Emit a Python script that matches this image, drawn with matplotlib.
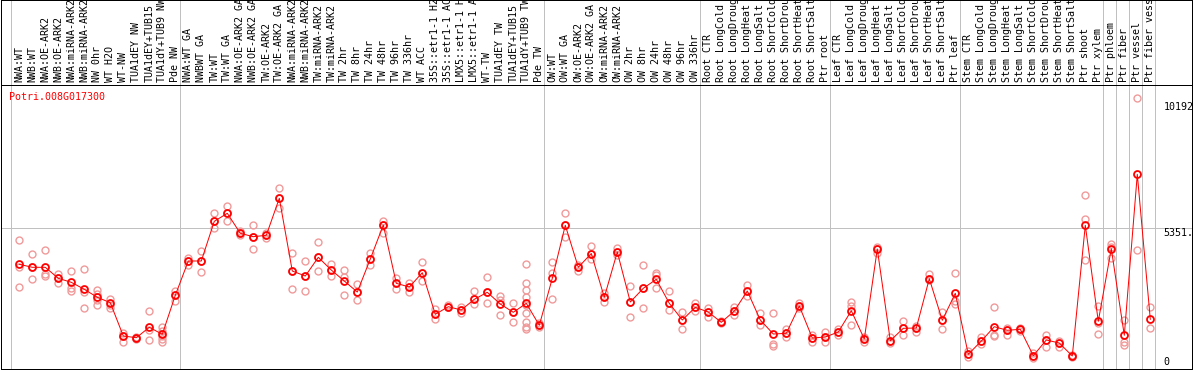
import matplotlib.pyplot as plt

gene = 'Potri.008G017300'

labels = [
    'NWA:WT', 'NWB:WT', 'NWA:OE-ARK2', 'NWB:OE-ARK2', 'NWA:miRNA-ARK2', 'NWB:miRNA-ARK2',
    'NW 0hr', 'WT H2O', 'WT-NW', 'TUA1dEY NW', 'TUA1dEY+TUB15', 'TUA1dY+TUB9 NW', 'Pde NW',
    'NWA:WT GA', 'NWBWT GA', 'TW:WT', 'TW:WT GA', 'NWA:OE-ARK2 GA', 'NWB:OE-ARK2 GA',
    'TW:OE-ARK2', 'TW:OE-ARK2 GA', 'NWA:miRNA-ARK2', 'NWB:miRNA-ARK2', 'TW:miRNA-ARK2',
    'TW:miRNA-ARK2', 'TW 2hr', 'TW 8hr', 'TW 24hr', 'TW 48hr', 'TW 96hr', 'TW 336hr',
    'WT ACC', '35S::etr1-1 H2', '35S::etr1-1 AC', 'LMX5::etr1-1 H', 'LMX5::etr1-1 A',
    'WT-TW', 'TUA1dEY TW', 'TUA1dEY+TUB15', 'TUA1dY+TUB9 TW', 'Pde TW',
    'OW:WT', 'OW:WT GA', 'OW:OE-ARK2', 'OW:OE-ARK2 GA', 'OW:miRNA-ARK2', 'OW:miRNA-ARK2',
    'OW 2hr', 'OW 8hr', 'OW 24hr', 'OW 48hr', 'OW 96hr', 'OW 336hr',
    'Root CTR', 'Root LongCold', 'Root LongDroug', 'Root LongHeat', 'Root LongSalt',
    'Root ShortCold', 'Root ShortDrou', 'Root ShortHeat', 'Root ShortSalt', 'Ptr root',
    'Leaf CTR', 'Leaf LongCold', 'Leaf LongDroug', 'Leaf LongHeat', 'Leaf LongSalt',
    'Leaf ShortCold', 'Leaf ShortDrou', 'Leaf ShortHeat', 'Leaf ShortSalt', 'Ptr leaf',
    'Stem CTR', 'Stem LongCold', 'Stem LongDroug', 'Stem LongHeat', 'Stem LongSalt',
    'Stem ShortCold', 'Stem ShortDrou', 'Stem ShortHeat', 'Stem ShortSalt', 'Ptr shoot',
    'Ptr xylem', 'Ptr phloem', 'Ptr fiber', 'Ptr vessel', 'Ptr fiber vess',
]

means = [
    4011, 3899, 3899, 3489, 3340, 3080, 2782, 2581, 1341, 1277, 1665, 1404, 2856,
    4134, 4134, 5612, 5910, 5165, 5039, 5091, 6469, 3761, 3575, 4271, 3798, 3389, 2979,
    4208, 5474, 3303, 3165, 3698, 2149, 2432, 2309, 2707, 2968, 2532, 2223, 2558, 1739,
    3489, 5463, 3899, 4413, 2782, 4469, 2607, 3117, 3452, 2558, 1936, 2409,
    2234, 1851, 2272, 3016, 1936, 1415, 1441, 2458, 1266, 1303,
    1490, 2283, 1229, 4581, 1166, 1627, 1639, 3474, 1925, 2931,
    659, 1154, 1687, 1553, 1590, 607, 1192, 1080, 596, 5463, 1888, 4592, 1367, 7362, 1963,
]

reps = [
    [4916, 3922, 3153], [4394, 3898, 3463], [4531, 3637, 3587], [3637, 3488, 3327],
    [3761, 3116, 3029], [3823, 2992, 2371], [3041, 2905, 2681, 2495], [2731, 2495, 2371],
    [1465, 1341, 1130], [1316, 1253, 1216], [2272, 1564, 1192], [1663, 1539, 1341, 1216, 1130],
    [3029, 2855, 2656],
    [4258, 4134, 3985], [4494, 4134, 3736], [5909, 5611, 5350], [6182, 5909, 5636],
    [5240, 5164, 5090], [5462, 5040, 4568], [5164, 5090, 4978], [6840, 6468, 6096],
    [4432, 3761, 3079], [4122, 3575, 3016], [4829, 4271, 3761], [4010, 3798, 3587],
    [3786, 3550, 2867], [3265, 2979, 2681], [4419, 4208, 3985], [5636, 5474, 5164],
    [3488, 3303, 3091], [3327, 3165, 2967], [4084, 3698, 3401], [2334, 2149, 1974],
    [2495, 2432, 2408], [2433, 2309, 2184], [3016, 2707, 2520], [3538, 2968, 2557],
    [2843, 2681, 2123], [2557, 2223, 1850],
    [4010, 3302, 3054, 2806, 2495, 2210, 1850, 1663, 1589], [1812, 1739, 1663],
    [4084, 3674, 2706], [5909, 5463, 5027], [3985, 3899, 3761], [4692, 4413, 4196],
    [2954, 2782, 2594], [4630, 4469, 4357], [3203, 2607, 2036], [3972, 3117, 2371],
    [3699, 3600, 3116], [3016, 2558, 2296], [2222, 1936, 1601], [2582, 2409, 2284],
    [2371, 2234, 2036], [1911, 1851, 1812], [2433, 2272, 2123], [3240, 3016, 2830],
    [2184, 1936, 1750], [2184, 1043, 968], [1614, 1441, 1291], [2582, 2458, 2371],
    [1378, 1266, 1130], [1477, 1303, 1130],
    [1589, 1490, 1378], [2607, 2458, 1738], [1316, 1229, 1105], [4667, 4581, 4419],
    [1316, 1166, 1067], [1899, 1627, 1365], [1725, 1639, 1502], [3637, 3474, 3426],
    [2247, 1925, 1589], [3674, 2656, 2532],
    [782, 659, 546], [1316, 1154, 1043], [2408, 1378, 1341], [1626, 1553, 1378],
    [1626, 1590, 1539], [695, 607, 534], [1378, 1192, 943], [1167, 1080, 943],
    [633, 596, 571], [6579, 5698, 4158], [2458, 1837, 1402], [4767, 4667, 4258],
    [1936, 1105, 1005], [10192, 4531], [2408, 1626],
]

# first sample index of each block (gray separators)
group_starts = [0, 13, 41, 53, 63, 73, 84, 85, 86, 87, 88]
y_max = 10192
y_mid = 5351

W, H = 1194, 370
fig = plt.figure(figsize=(W / 100, H / 100), dpi=100)
ax = fig.add_axes([1 / W, 1 / H, 1191 / W, 284 / H])
hd = fig.add_axes([1 / W, 285 / H, 1191 / W, 85 / H], sharex=ax)

mono = 'DejaVu Sans Mono'
lw = 0.72
x = list(range(len(labels)))

for a in (ax, hd):
    for s in a.spines.values():
        s.set_linewidth(lw)
        s.set_color('black')
    a.tick_params(left=False, bottom=False, labelleft=False, labelbottom=False)
    for g in group_starts:
        a.axvline(g - 0.64, color='#c0c0c0', lw=lw, zorder=0)
hd.spines['bottom'].set_visible(False)

ax.set_xlim(-1.408, 90.208)
ax.set_ylim(112, 10688)
hd.set_ylim(0, 1)

ax.axhline(y_mid, color='#c0c0c0', lw=lw, zorder=0)

for i, vals in enumerate(reps):
    ax.plot([i] * len(vals), vals, 'o', ms=5.0, mfc='none', mec='#f09a9a', mew=1.0, zorder=2)
ax.plot(x, means, '-', color='red', lw=lw, zorder=3)
ax.plot(x, means, 'o', ms=5.0, mfc='none', mec='red', mew=1.3, zorder=4)

for i, lab in enumerate(labels):
    hd.text(i, 0.03, lab, rotation=90, ha='center', va='bottom', family=mono,
            fontsize=7.2, color='black')

ax.annotate(gene, xy=(0, 1), xycoords='axes fraction', xytext=(8, -7),
            textcoords='offset pixels', ha='left', va='top', family=mono,
            fontsize=7.2, color='red')

# value labels on the right; offsets in pixels (positive = up)
for val, txt, off in [(y_max, '10192', -4), (y_mid, '5351.', 0), (0, '0', 15)]:
    ax.annotate(txt, xy=(88, val), xytext=(0, off), textcoords='offset pixels',
                ha='left', va='top', family=mono, fontsize=7.2, color='black',
                annotation_clip=False, clip_on=True)

fig.savefig('out.png', dpi=100)
